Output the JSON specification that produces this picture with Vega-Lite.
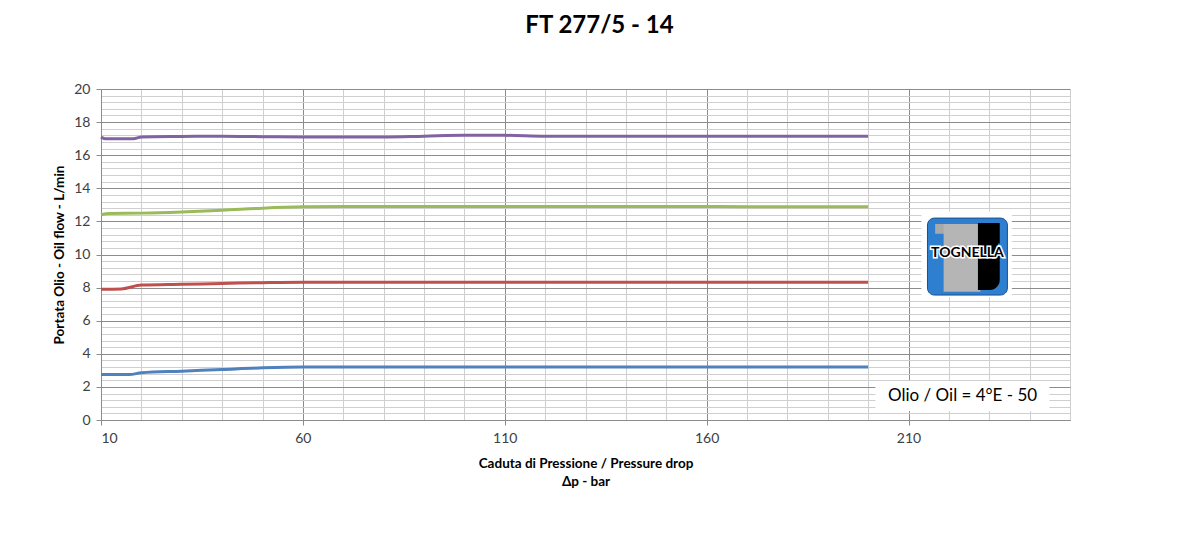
{
  "$schema": "https://vega.github.io/schema/vega-lite/v6.json",
  "autosize": "none",
  "width": 969,
  "height": 331,
  "padding": {"left": 101, "top": 89, "right": 121, "bottom": 115},
  "background": "white",
  "config": {"view": {"stroke": null}, "font": "Lato"},
  "title": {"text": "FT 277/5 - 14", "fontSize": 24, "font": "Lato", "fontWeight": "bold", "anchor": "middle", "offset": 44, "dx": 14, "color": "#000000"},
  "datasets": {
    "flow": [
      {"dp": 10, "q": 17.1, "s": "d"}, {"dp": 11, "q": 17.0, "s": "d"}, {"dp": 18, "q": 17.0, "s": "d"}, {"dp": 20, "q": 17.1, "s": "d"}, {"dp": 30, "q": 17.13, "s": "d"}, {"dp": 40, "q": 17.15, "s": "d"}, {"dp": 50, "q": 17.12, "s": "d"}, {"dp": 60, "q": 17.1, "s": "d"}, {"dp": 70, "q": 17.1, "s": "d"}, {"dp": 80, "q": 17.1, "s": "d"}, {"dp": 90, "q": 17.15, "s": "d"}, {"dp": 100, "q": 17.2, "s": "d"}, {"dp": 110, "q": 17.2, "s": "d"}, {"dp": 120, "q": 17.15, "s": "d"}, {"dp": 140, "q": 17.15, "s": "d"}, {"dp": 160, "q": 17.15, "s": "d"}, {"dp": 180, "q": 17.15, "s": "d"}, {"dp": 200, "q": 17.15, "s": "d"},
      {"dp": 10, "q": 12.4, "s": "c"}, {"dp": 12, "q": 12.48, "s": "c"}, {"dp": 20, "q": 12.5, "s": "c"}, {"dp": 30, "q": 12.57, "s": "c"}, {"dp": 40, "q": 12.67, "s": "c"}, {"dp": 50, "q": 12.8, "s": "c"}, {"dp": 60, "q": 12.88, "s": "c"}, {"dp": 70, "q": 12.9, "s": "c"}, {"dp": 80, "q": 12.9, "s": "c"}, {"dp": 100, "q": 12.9, "s": "c"}, {"dp": 120, "q": 12.9, "s": "c"}, {"dp": 140, "q": 12.9, "s": "c"}, {"dp": 160, "q": 12.9, "s": "c"}, {"dp": 180, "q": 12.88, "s": "c"}, {"dp": 200, "q": 12.88, "s": "c"},
      {"dp": 10, "q": 7.9, "s": "b"}, {"dp": 15, "q": 7.92, "s": "b"}, {"dp": 20, "q": 8.15, "s": "b"}, {"dp": 30, "q": 8.2, "s": "b"}, {"dp": 40, "q": 8.25, "s": "b"}, {"dp": 50, "q": 8.3, "s": "b"}, {"dp": 60, "q": 8.33, "s": "b"}, {"dp": 80, "q": 8.33, "s": "b"}, {"dp": 100, "q": 8.33, "s": "b"}, {"dp": 120, "q": 8.33, "s": "b"}, {"dp": 140, "q": 8.33, "s": "b"}, {"dp": 160, "q": 8.33, "s": "b"}, {"dp": 180, "q": 8.33, "s": "b"}, {"dp": 200, "q": 8.33, "s": "b"},
      {"dp": 10, "q": 2.75, "s": "a"}, {"dp": 17, "q": 2.75, "s": "a"}, {"dp": 20, "q": 2.85, "s": "a"}, {"dp": 30, "q": 2.95, "s": "a"}, {"dp": 40, "q": 3.05, "s": "a"}, {"dp": 50, "q": 3.15, "s": "a"}, {"dp": 60, "q": 3.2, "s": "a"}, {"dp": 80, "q": 3.2, "s": "a"}, {"dp": 100, "q": 3.2, "s": "a"}, {"dp": 120, "q": 3.2, "s": "a"}, {"dp": 140, "q": 3.2, "s": "a"}, {"dp": 160, "q": 3.2, "s": "a"}, {"dp": 180, "q": 3.2, "s": "a"}, {"dp": 200, "q": 3.2, "s": "a"}
    ],
    "one": [{}]
  },
  "layer": [
    {
      "data": {"name": "flow"},
      "mark": {"type": "line", "strokeWidth": 3, "interpolate": "monotone"},
      "encoding": {
        "x": {
          "field": "dp", "type": "quantitative",
          "scale": {"domain": [10, 250], "nice": false, "zero": false},
          "axis": {
            "values": [10, 20, 30, 40, 50, 60, 70, 80, 90, 100, 110, 120, 130, 140, 150, 160, 170, 180, 190, 200, 210, 220, 230, 240, 250],
            "tickCount": 100,
            "labelExpr": "(datum.value - 10) % 50 === 0 ? format(datum.value, 'd') : ''",
            "labelOverlap": false,
            "labelFont": "Lato", "labelFontSize": 14, "labelColor": "#404040", "labelPadding": 6,
            "grid": true,
            "gridColor": {"condition": {"test": "(datum.value - 10) % 50 === 0", "value": "#8c8c8c"}, "value": "#cfcfcf"},
            "tickOpacity": {"condition": {"test": "(datum.value - 10) % 50 === 0", "value": 1}, "value": 0},
            "tickColor": "#8c8c8c", "tickSize": 5,
            "domainColor": "#8c8c8c",
            "title": ["Caduta di Pressione / Pressure drop", "Δp - bar"],
            "titleFont": "Lato", "titleFontSize": 13.5, "titleFontWeight": "bold", "titleColor": "#000000", "titlePadding": 11, "titleLineHeight": 18
          }
        },
        "y": {
          "field": "q", "type": "quantitative",
          "scale": {"domain": [0, 20], "nice": false},
          "axis": {
            "values": [0, 0.4, 0.8, 1.2, 1.6, 2, 2.4, 2.8, 3.2, 3.6, 4, 4.4, 4.8, 5.2, 5.6, 6, 6.4, 6.8, 7.2, 7.6, 8, 8.4, 8.8, 9.2, 9.6, 10, 10.4, 10.8, 11.2, 11.6, 12, 12.4, 12.8, 13.2, 13.6, 14, 14.4, 14.8, 15.2, 15.6, 16, 16.4, 16.8, 17.2, 17.6, 18, 18.4, 18.8, 19.2, 19.6, 20],
            "tickCount": 100,
            "labelExpr": "abs(datum.value / 2 - round(datum.value / 2)) < 0.01 ? format(datum.value, 'd') : ''",
            "labelOverlap": false,
            "labelFont": "Lato", "labelFontSize": 14, "labelColor": "#404040", "labelPadding": 6,
            "grid": true,
            "gridColor": {"condition": {"test": "abs(datum.value / 2 - round(datum.value / 2)) < 0.01", "value": "#8c8c8c"}, "value": "#cfcfcf"},
            "tickOpacity": {"condition": {"test": "abs(datum.value / 2 - round(datum.value / 2)) < 0.01", "value": 1}, "value": 0},
            "tickColor": "#8c8c8c", "tickSize": 5,
            "domainColor": "#8c8c8c",
            "title": "Portata Olio - Oil flow - L/min",
            "titleFont": "Lato", "titleFontSize": 13.5, "titleFontWeight": "bold", "titleColor": "#000000", "titlePadding": 7
          }
        },
        "color": {
          "field": "s", "type": "nominal",
          "scale": {"domain": ["a", "b", "c", "d"], "range": ["#4F81BD", "#C0504D", "#9BBB59", "#8064A2"]},
          "legend": null
        },
        "detail": {"field": "s"}
      }
    },
    {
      "data": {"name": "one"},
      "mark": {"type": "rect", "fill": "white"},
      "encoding": {
        "x": {"datum": 213.2, "type": "quantitative"}, "x2": {"datum": 235.6},
        "y": {"datum": 12.6, "type": "quantitative"}, "y2": {"datum": 7.4}
      }
    },
    {
      "data": {"name": "one"},
      "mark": {"type": "rect", "fill": "#2E7FD0", "cornerRadius": 7, "stroke": "#1b4f8a", "strokeWidth": 1},
      "encoding": {
        "x": {"datum": 214.7, "type": "quantitative"}, "x2": {"datum": 234.5},
        "y": {"datum": 12.2, "type": "quantitative"}, "y2": {"datum": 7.55}
      }
    },
    {
      "data": {"name": "one"},
      "mark": {"type": "rect", "fill": "#a9a9a9"},
      "encoding": {
        "x": {"datum": 216.6, "type": "quantitative"}, "x2": {"datum": 229.5},
        "y": {"datum": 11.85, "type": "quantitative"}, "y2": {"datum": 11.25}
      }
    },
    {
      "data": {"name": "one"},
      "mark": {"type": "rect", "fill": "#b5b5b5"},
      "encoding": {
        "x": {"datum": 218.7, "type": "quantitative"}, "x2": {"datum": 227.8},
        "y": {"datum": 11.85, "type": "quantitative"}, "y2": {"datum": 7.75}
      }
    },
    {
      "data": {"name": "one"},
      "mark": {"type": "rect", "fill": "#000000", "cornerRadiusBottomRight": 10},
      "encoding": {
        "x": {"datum": 227.2, "type": "quantitative"}, "x2": {"datum": 232.6},
        "y": {"datum": 11.9, "type": "quantitative"}, "y2": {"datum": 7.85}
      }
    },
    {
      "data": {"name": "one"},
      "mark": {"type": "text", "font": "Lato", "fontSize": 14, "fontWeight": "bold", "fill": "white", "stroke": "white", "strokeWidth": 3, "align": "center", "baseline": "middle"},
      "encoding": {
        "x": {"datum": 224.6, "type": "quantitative"},
        "y": {"datum": 10.1, "type": "quantitative"},
        "text": {"value": "TOGNELLA"}
      }
    },
    {
      "data": {"name": "one"},
      "mark": {"type": "text", "font": "Lato", "fontSize": 14, "fontWeight": "bold", "fill": "#000000", "align": "center", "baseline": "middle"},
      "encoding": {
        "x": {"datum": 224.6, "type": "quantitative"},
        "y": {"datum": 10.1, "type": "quantitative"},
        "text": {"value": "TOGNELLA"}
      }
    },
    {
      "data": {"name": "one"},
      "mark": {"type": "rect", "fill": "white"},
      "encoding": {
        "x": {"datum": 201.8, "type": "quantitative"}, "x2": {"datum": 244.9},
        "y": {"datum": 2.36, "type": "quantitative"}, "y2": {"datum": 0.54}
      }
    },
    {
      "data": {"name": "one"},
      "mark": {"type": "text", "font": "Lato", "fontSize": 17, "fill": "#000000", "align": "center", "baseline": "middle"},
      "encoding": {
        "x": {"datum": 223.4, "type": "quantitative"},
        "y": {"datum": 1.45, "type": "quantitative"},
        "text": {"value": "Olio / Oil = 4°E - 50"}
      }
    }
  ]
}
